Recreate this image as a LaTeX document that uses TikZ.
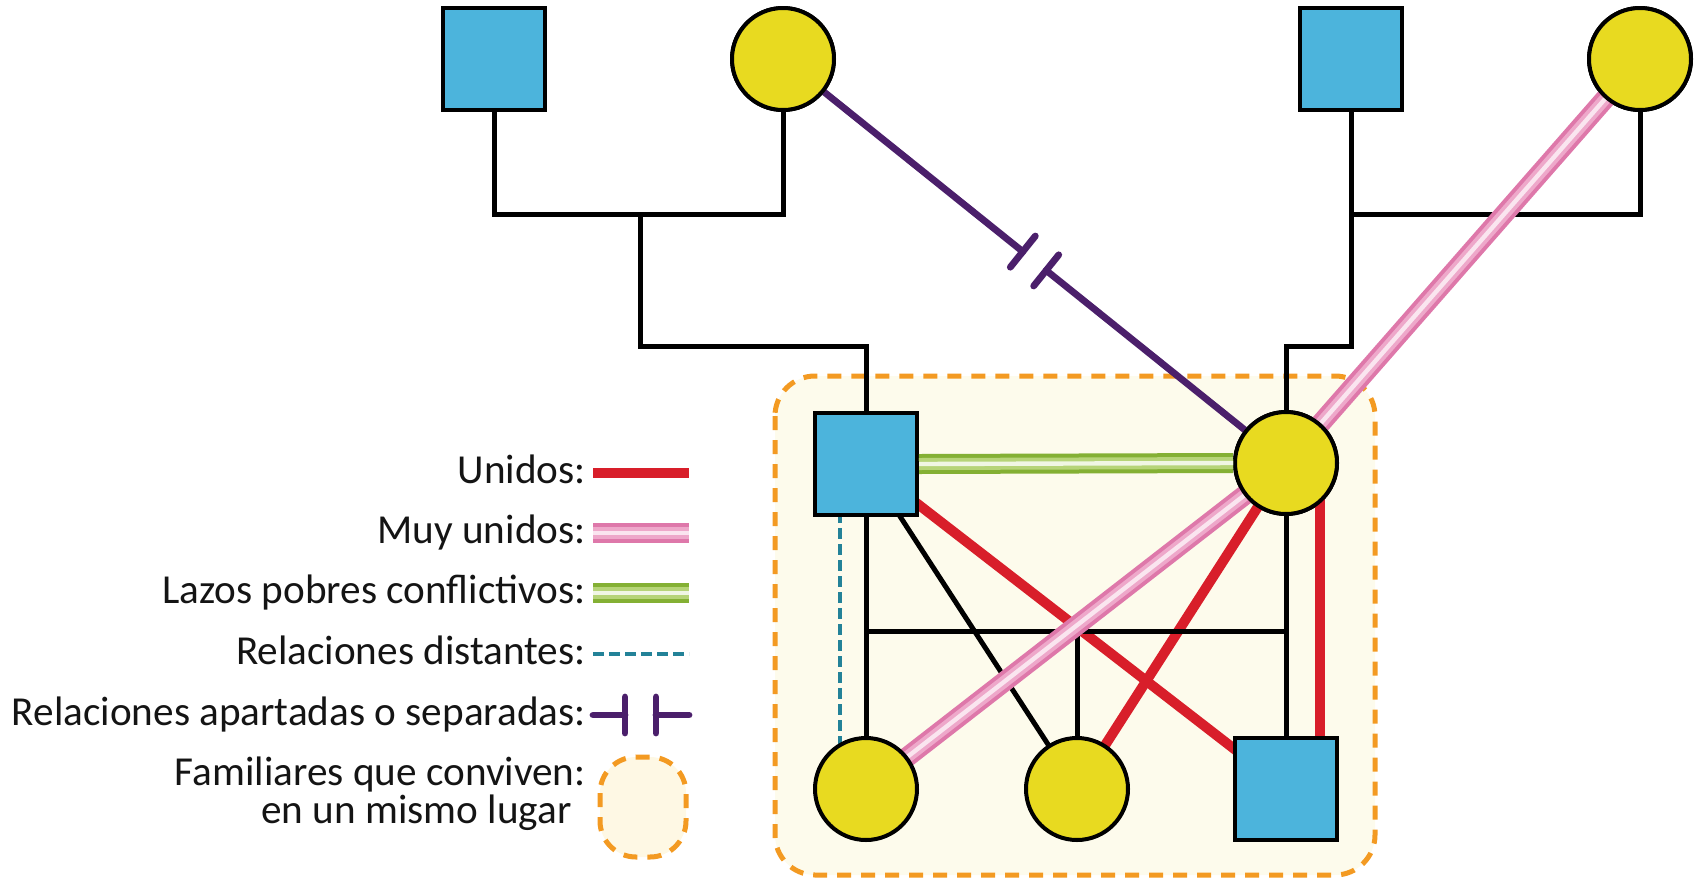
\documentclass[tikz,border=0pt]{standalone}
\usepackage{fontspec}
\setmainfont{Carlito}
\usetikzlibrary{calc}

\definecolor{famblue}{RGB}{76,180,220}
\definecolor{famyellow}{RGB}{232,218,32}
\definecolor{bondred}{RGB}{216,30,42}
\definecolor{cutpurple}{RGB}{75,31,107}
\definecolor{farteal}{RGB}{35,130,152}
\definecolor{homeorange}{RGB}{243,154,34}
\definecolor{homefill}{RGB}{253,251,236}
\definecolor{keyfill}{RGB}{254,248,228}
\definecolor{poorgreen}{RGB}{132,176,52}
\definecolor{poorgreenlt}{RGB}{182,212,120}
\definecolor{closepink}{RGB}{222,120,170}
\definecolor{closepinklt}{RGB}{238,168,202}
\definecolor{ink}{RGB}{20,20,20}

\tikzset{
  male/.style={rectangle, draw=black, line width=2pt, fill=famblue,
    minimum width=51pt, minimum height=51pt, inner sep=0pt},
  female/.style={circle, draw=black, line width=2pt, fill=famyellow,
    minimum size=51pt, inner sep=0pt},
  kin/.style={draw=black, line width=2.5pt},
  united/.style={draw=bondred, line width=5pt},
  veryclose/.style={draw=closepink, line width=10pt,
    postaction={draw=closepinklt, line width=6pt},
    postaction={draw=white!70!closepinklt, line width=2.2pt}},
  poorbond/.style={draw=poorgreen, line width=10pt,
    postaction={draw=poorgreenlt, line width=6pt},
    postaction={draw=white!80!poorgreenlt, line width=2.2pt}},
  distant/.style={draw=farteal, line width=2pt, dash pattern=on 5.5pt off 2.5pt},
  cutoff/.style={draw=cutpurple, line width=3.4pt, line cap=round},
  household/.style={draw=homeorange, line width=2.5pt, dash pattern=on 7pt off 5pt},
  keytext/.style={anchor=east, inner sep=0pt, text=ink, font=\fontsize{20.6pt}{25pt}\selectfont,
    text height=14pt, text depth=4pt}
}

\begin{document}
\begin{tikzpicture}[x=0.5pt, y=-0.5pt]
\useasboundingbox (0,0) rectangle (1698,879);

% household boundary
\draw[household, fill=homefill, rounded corners=20pt] (775,376) rectangle (1375,875);

% positions of the people
\path (494,59) coordinate (ptl) (783,59) coordinate (ptc)
      (1351,59) coordinate (ptr) (1640,59) coordinate (pfr)
      (866,464) coordinate (pms) (1286,463) coordinate (pmc)
      (866,789) coordinate (pb1) (1077,789) coordinate (pb2) (1286,789) coordinate (pbs);

% joints of the family tree
\coordinate (lj) at (640,214);
\coordinate (lk) at (640,346);
\coordinate (rj) at (1351,214);
\coordinate (rk) at (1351,346);
\coordinate (sj) at (1077,631);

% people (first pass, gives the anchors)
\node[male]   (tl)  at (ptl) {};
\node[female] (tc)  at (ptc) {};
\node[male]   (trs) at (ptr) {};
\node[female] (trc) at (pfr) {};
\node[male]   (ms)  at (pms) {};
\node[female] (mc)  at (pmc) {};

% united bonds and distant relation
\draw[united] (ms.center) -- (pbs);
\draw[united] (mc.center) -- (pb2);
\draw[united] ($(mc.center)+(34,0)$) -- ($(pbs)+(34,0)$);
\draw[distant] ($(ms.center)+(-26,0)$) -- ($(pb1)+(-26,0)$);

% family tree lines
\draw[kin] (tl.south) -- (tl.south |- lj) -- (tc.south |- lj) -- (tc.south);
\draw[kin] (lj) -- (lk) -| (ms.north);
\draw[kin] (trs.south) -- (rj) -- (trc.south |- rj) -- (trc.south);
\draw[kin] (rj) -- (rk) -| (mc.north);
\draw[kin] (ms.south) -- (pb1);
\draw[kin] (mc.south) -- (pbs);
\draw[kin] (ms.south |- sj) -- (mc.south |- sj);
\draw[kin] (sj) -- (pb2);
\draw[kin] (ms.center) -- (pb2);

% cut-off relation with its break mark
\coordinate (pm) at ($(tc.center)!0.5!(mc.center)$);
\coordinate (pa) at ($(pm)!7.5pt!(tc.center)$);
\coordinate (pb) at ($(pm)!7.5pt!(mc.center)$);
\draw[cutoff] (tc.center) -- (pa);
\draw[cutoff] (pb) -- (mc.center);
\draw[cutoff] ($(pa)!10pt!90:(tc.center)$) -- ($(pa)!10pt!-90:(tc.center)$);
\draw[cutoff] ($(pb)!10pt!90:(tc.center)$) -- ($(pb)!10pt!-90:(tc.center)$);

% close bonds
\draw[veryclose] (trc.center) -- (mc.center);
\draw[veryclose] (mc.center) -- (pb1);

% people drawn on top of the bonds
\node[male]   at (ptl) {};
\node[female] at (ptc) {};
\node[male]   at (ptr) {};
\node[female] at (pfr) {};
\node[male]   (ms2) at (pms) {};
\node[female] (mc2) at (pmc) {};
\node[female] (bc1) at (pb1) {};
\node[female] (bc2) at (pb2) {};
\node[male]   (bs)  at (pbs) {};
\draw[poorbond] (ms2.east) -- (mc2.west);

% key
\node[keytext] (k1) at (586,473) {Unidos:};
\node[keytext] (k2) at (586,533) {Muy unidos:};
\node[keytext] (k3) at (586,593) {Lazos pobres conflictivos:};
\node[keytext] (k4) at (586,654) {Relaciones distantes:};
\node[keytext] (k5) at (586,715) {Relaciones apartadas o separadas:};
\node[keytext] (k6) at (586,775) {Familiares que conviven:};
\node[keytext] (k7) at (572,813) {en un mismo lugar};

\draw[united] (593,473) -- (689,473);
\draw[veryclose] (593,533) -- (689,533);
\draw[poorbond] (593,593) -- (689,593);
\draw[distant] (593,654) -- (689,654);
\draw[cutoff] (593,715) -- (625,715) (625,697) -- (625,733);
\draw[cutoff] (656,715) -- (689,715) (656,697) -- (656,733);
\draw[household, fill=keyfill, rounded corners=18pt] (600,757) rectangle (686,857);
\end{tikzpicture}
\end{document}
